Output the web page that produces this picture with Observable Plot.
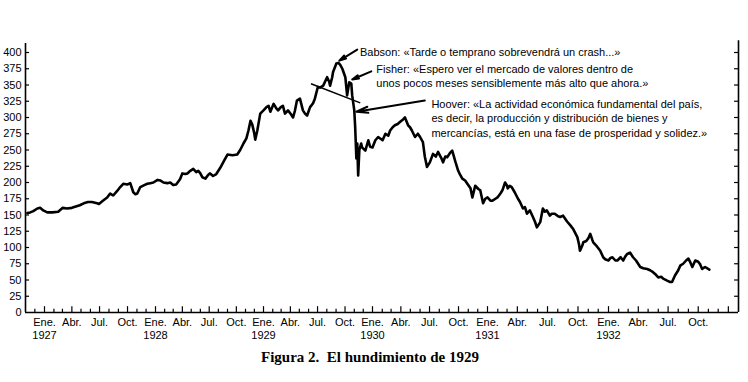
<!DOCTYPE html>
<html>
<head>
<meta charset="utf-8">
<script src="https://cdn.jsdelivr.net/npm/d3@7"></script>
<script src="https://cdn.jsdelivr.net/npm/@observablehq/plot@0.6"></script>
<style>
  html, body { margin: 0; padding: 0; background: #fff; }
  #chart svg { display: block; }
  #caption {
    font-family: "Liberation Serif", "Times New Roman", serif;
    font-weight: bold; font-size: 15px; color: #000;
    width: 740px; text-align: center; margin-top: 4px;
  }
</style>
</head>
<body>
<div id="chart"></div>
<div id="caption">Figura 2.&nbsp; El hundimiento de 1929</div>
<script>
// Dow Jones index
const dowDates = [
"1926-11-07","1926-11-16","1926-11-26","1926-12-09","1926-12-18","1926-12-28",
"1927-01-10","1927-01-27","1927-02-15","1927-03-02","1927-03-16","1927-04-01","1927-04-14","1927-04-27",
"1927-05-10","1927-05-24","1927-06-06","1927-06-23","1927-06-29","1927-07-12","1927-07-26","1927-08-05",
"1927-08-15","1927-08-28","1927-09-07","1927-09-17","1927-09-30","1927-10-10","1927-10-20","1927-10-27",
"1927-11-02","1927-11-12","1927-11-25","1927-12-05","1927-12-15","1927-12-25",
"1928-01-08","1928-01-18","1928-01-28","1928-02-10","1928-02-20","1928-03-01","1928-03-11","1928-03-24",
"1928-04-01","1928-04-11","1928-04-18","1928-04-28","1928-05-08","1928-05-18","1928-05-25","1928-06-01",
"1928-06-08","1928-06-18","1928-06-28","1928-07-04","1928-07-14","1928-07-25","1928-08-01","1928-08-08",
"1928-08-21","1928-09-01","1928-09-18","1928-10-04","1928-10-14","1928-10-25","1928-11-04","1928-11-11",
"1928-11-18","1928-11-24","1928-12-01","1928-12-04","1928-12-11","1928-12-21",
"1929-01-01","1929-01-11","1929-01-18","1929-01-24","1929-02-04","1929-02-13","1929-02-19","1929-02-28",
"1929-03-07","1929-03-14","1929-03-24","1929-04-03","1929-04-10","1929-04-16","1929-04-23","1929-05-03",
"1929-05-13","1929-05-20","1929-05-27","1929-06-06","1929-06-16","1929-06-22","1929-07-02","1929-07-09",
"1929-07-20","1929-08-02","1929-08-09","1929-08-12","1929-08-19","1929-08-22","1929-09-02","1929-09-09",
"1929-09-15","1929-09-22","1929-10-02","1929-10-08","1929-10-15","1929-10-22","1929-10-25","1929-11-01",
"1929-11-04","1929-11-08","1929-11-11","1929-11-14","1929-11-18","1929-11-24","1929-11-27","1929-12-08",
"1929-12-18","1929-12-24",
"1930-01-01","1930-01-10","1930-01-19","1930-02-02","1930-02-11","1930-02-20","1930-02-26","1930-03-06",
"1930-03-13","1930-03-22","1930-03-29","1930-04-08","1930-04-14","1930-04-24","1930-04-30","1930-05-06",
"1930-05-16","1930-05-25","1930-06-01","1930-06-10","1930-06-16","1930-06-23","1930-07-02","1930-07-12",
"1930-07-21","1930-07-28","1930-08-07","1930-08-13","1930-08-20","1930-08-26","1930-09-05","1930-09-11",
"1930-09-21","1930-09-30","1930-10-06","1930-10-13","1930-10-22","1930-10-29","1930-11-08","1930-11-14",
"1930-11-23","1930-12-03","1930-12-09","1930-12-18","1930-12-25",
"1931-01-01","1931-01-10","1931-01-16","1931-01-25","1931-01-31","1931-02-09","1931-02-15","1931-02-23",
"1931-03-01","1931-03-03","1931-03-09","1931-03-15","1931-03-24","1931-04-03","1931-04-09","1931-04-18",
"1931-04-24","1931-04-30","1931-05-09","1931-05-18","1931-05-24","1931-05-30","1931-06-09","1931-06-17",
"1931-06-23","1931-06-29","1931-07-08","1931-07-14","1931-07-23","1931-08-02","1931-08-08","1931-08-17",
"1931-08-29","1931-09-08","1931-09-17","1931-09-29","1931-10-04","1931-10-07","1931-10-14","1931-10-17",
"1931-10-26","1931-11-01","1931-11-07","1931-11-13","1931-11-16","1931-11-25","1931-12-07","1931-12-16",
"1931-12-22",
"1932-01-01","1932-01-07","1932-01-13","1932-01-22","1932-01-28","1932-02-07","1932-02-15","1932-02-21",
"1932-02-27","1932-03-07","1932-03-16","1932-03-25","1932-04-07","1932-04-16","1932-04-28","1932-05-07",
"1932-05-16","1932-05-25","1932-06-01","1932-06-10","1932-06-16","1932-06-28","1932-07-07","1932-07-13",
"1932-07-22","1932-08-01","1932-08-07","1932-08-16","1932-08-25","1932-09-01","1932-09-07","1932-09-13",
"1932-09-22","1932-10-01","1932-10-07","1932-10-13","1932-10-22","1932-11-04"
];
const dowValues = [
153,154,156,160,161,157,
154,154,155,161,160,161,163,165,
168,170,170,168,167,172,177,183,
180,187,193,198,197,199,185,182,
183,193,196,198,199,200,
204,203,200,199,200,196,197,205,
214,213,214,218,221,216,218,214,
208,206,212,214,210,213,218,223,
234,243,242,243,250,260,268,280,
295,289,275,266,280,306,
311,316,318,309,321,314,311,316,
318,306,311,305,300,310,326,329,
311,306,303,316,322,329,347,346,
349,362,355,349,362,370,383,384,
381,375,362,334,354,352,334,311,
285,237,260,211,250,260,254,249,
265,255,
254,265,270,265,275,272,280,285,
288,290,293,297,300,288,285,280,
270,275,270,262,240,224,231,244,
240,247,238,231,240,239,246,249,
232,218,212,206,203,198,191,177,
195,190,188,168,175,
177,172,172,175,177,183,188,200,
195,191,195,193,185,175,170,160,
162,152,157,147,140,131,139,160,
155,157,149,152,152,148,147,149,
140,134,128,116,105,95,103,108,
110,114,121,112,108,103,95,85,
82,
80,84,85,80,80,85,80,86,
90,92,85,80,70,68,67,65,
62,58,54,55,52,49,47,47,
57,65,72,75,80,83,77,70,
80,78,74,67,70,66
];

// axis ticks / labels
const yTicks = d3.range(0, 401, 25);
const monthNames = ["Ene.", "Abr.", "Jul.", "Oct."];
const quarterTicks = d3.utcMonths(new Date("1927-01-01"), new Date("1932-11-01"), 3);
const monthTicks = d3.utcMonths(new Date("1926-12-01"), new Date("1933-02-01"), 1);

// annotations (date, value)
const quoteDates = ["1929-11-20", "1930-01-13", "1930-07-07"];
const quoteValues = [402, 364.5, 300];
const quoteTexts = [
  "Babson: «Tarde o temprano sobrevendrá un crash...»",
  "Fisher: «Espero ver el mercado de valores dentro de\nunos pocos meses sensiblemente más alto que ahora.»",
  "Hoover: «La actividad económica fundamental del país,\nes decir, la producción y distribución de bienes y\nmercancías, está en una fase de prosperidad y solidez.»"
];
const arrowFromDates = ["1929-11-11", "1929-12-28", "1930-06-16"];
const arrowFromValues = [404.5, 371, 326];
const arrowToDates = ["1929-09-12", "1929-10-25", "1929-11-08"];
const arrowToValues = [387.5, 358.5, 309];
const necklineDates = ["1929-06-09", "1929-11-21"];
const necklineValues = [352, 322.5];

const P = (s) => new Date(s);
const dow = dowDates.map((d, i) => ({date: P(d), value: dowValues[i]}));
const quotes = quoteDates.map((d, i) => ({date: P(d), value: quoteValues[i], text: quoteTexts[i]}));
const arrows = arrowFromDates.map((d, i) => ({
  x1: P(d), y1: arrowFromValues[i], x2: P(arrowToDates[i]), y2: arrowToValues[i]
}));
const neckline = [{x1: P(necklineDates[0]), y1: necklineValues[0], x2: P(necklineDates[1]), y2: necklineValues[1]}];

const xStart = P("1926-11-01"), xEnd = P("1933-02-01");

const chart = Plot.plot({
  width: 748,
  height: 345,
  marginLeft: 25,
  marginRight: 10,
  marginTop: 52,
  marginBottom: 33,
  style: {fontFamily: "'Liberation Sans', Arial, sans-serif", fontSize: "11px", color: "#000", background: "#fff"},
  x: {
    type: "utc",
    domain: [xStart, P("1927-01-01"), P("1928-01-01"), P("1929-01-01"), P("1930-01-01"), P("1931-01-01"), P("1932-01-01"), xEnd],
    range: [25, 44, 155, 263, 372, 487, 608, 738],
    axis: null
  },
  y: {domain: [0, 400], axis: null},
  marks: [
    // frame lines
    Plot.ruleX([xStart], {y1: 0, y2: 414, strokeWidth: 1.6, stroke: "#000"}),
    Plot.ruleX([xEnd], {y1: 0, y2: 418, strokeWidth: 1.6, stroke: "#000"}),
    Plot.ruleY([0], {x1: xStart, x2: xEnd, strokeWidth: 1.6, stroke: "#000"}),
    // y ticks (inward)
    Plot.ruleY(yTicks.filter(v => v > 0), {x1: xStart, x2: P("1926-11-14"), strokeWidth: 1.2, stroke: "#000"}),
    Plot.ruleY(yTicks.filter(v => v > 0), {x1: P("1933-01-20"), x2: xEnd, strokeWidth: 1.2, stroke: "#000"}),
    Plot.axisY(yTicks, {anchor: "left", tickSize: 0, tickPadding: 4, fontSize: 11, fill: "#000"}),
    // x ticks (inward, taller on quarters)
    Plot.ruleX(monthTicks, {x: d => d, y1: 0, y2: d => d.getUTCMonth() % 3 === 0 ? 9 : 5, strokeWidth: 1.2, stroke: "#000"}),
    Plot.axisX(quarterTicks, {
      anchor: "bottom", tickSize: 0, tickPadding: 4, fontSize: 11, fill: "#000", lineHeight: 1.2,
      tickFormat: d => {
        const m = monthNames[Math.floor(d.getUTCMonth() / 3)];
        return d.getUTCMonth() === 0 ? m + "\n" + d.getUTCFullYear() : m;
      }
    }),
    // the series
    Plot.line(dow, {x: "date", y: "value", stroke: "#000", strokeWidth: 2.6, strokeLinejoin: "round"}),
    // annotations
    Plot.link(neckline, {x1: "x1", y1: "y1", x2: "x2", y2: "y2", stroke: "#000", strokeWidth: 1.5}),
    Plot.arrow(arrows, {x1: "x1", y1: "y1", x2: "x2", y2: "y2", stroke: "#000", strokeWidth: 2, headLength: 9, headAngle: 30}),
    Plot.text(quotes, {x: "date", y: "value", text: "text", textAnchor: "start", lineAnchor: "middle", lineHeight: 1.32, fontSize: 11, fill: "#000"})
  ]
});
document.getElementById("chart").appendChild(chart);
</script>
</body>
</html>
